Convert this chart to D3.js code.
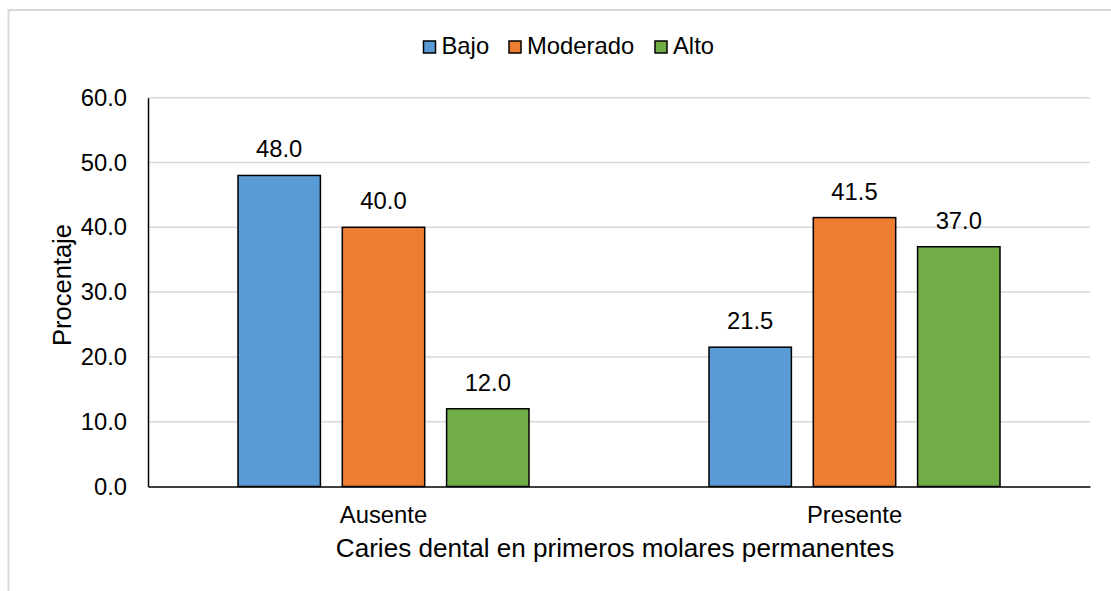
<!DOCTYPE html>
<html>
<head>
<meta charset="utf-8">
<script src="https://cdn.jsdelivr.net/npm/d3@7"></script>
<style>
  html, body { margin: 0; padding: 0; background: #fff; }
  svg { display: block; }
  text { font-family: "Liberation Sans", Arial, sans-serif; fill: #000; }
</style>
</head>
<body>
<svg id="chart" width="1111" height="591"></svg>
<script>
// Categories, series and values
const categories = ["Ausente", "Presente"];
const series = ["Bajo", "Moderado", "Alto"];
const bajo = [48.0, 21.5];
const moderado = [40.0, 41.5];
const alto = [12.0, 37.0];
const yTicks = [0, 10, 20, 30, 40, 50, 60];
const colors = ["#5B9BD5", "#ED7D31", "#70AD47"];

const seriesValues = [bajo, moderado, alto];
const data = categories.map((c, i) => ({
  category: c,
  values: series.map((s, j) => ({ key: s, value: seriesValues[j][i] }))
}));

const svg = d3.select("#chart");
const labelSize = "23.8px";

// outer chart frame
svg.append("rect")
  .attr("x", 8.5).attr("y", 10)
  .attr("width", 1130).attr("height", 600)
  .attr("fill", "none").attr("stroke", "#d9d9d9").attr("stroke-width", 2);

const plot = { left: 148, right: 1090, top: 97.7, bottom: 486.5 };

const y = d3.scaleLinear().domain([0, 60]).range([plot.bottom, plot.top]);
const x0 = d3.scaleBand().domain(categories).range([plot.left, plot.right]).padding(0);
const x1 = d3.scaleBand().domain(series)
  .range([x0.bandwidth() / 2 - 145.5, x0.bandwidth() / 2 + 145.5])
  .paddingInner(0.21).paddingOuter(0);
const color = d3.scaleOrdinal().domain(series).range(colors);

// gridlines
svg.append("g")
  .selectAll("line")
  .data(yTicks.filter(d => d > 0))
  .join("line")
  .attr("x1", plot.left).attr("x2", plot.right)
  .attr("y1", d => y(d)).attr("y2", d => y(d))
  .attr("stroke", "#d9d9d9").attr("stroke-width", 1.5);

// y axis
const yAxis = d3.axisLeft(y).tickValues(yTicks).tickFormat(d3.format(".1f")).tickSize(0).tickPadding(21);
const gy = svg.append("g").attr("transform", `translate(${plot.left},0)`).call(yAxis);
gy.select(".domain").attr("stroke", "#000").attr("stroke-width", 1.5);
gy.selectAll("text")
  .style("font-family", '"Liberation Sans", Arial, sans-serif')
  .style("font-size", labelSize).attr("fill", "#000");

// bars
const groups = svg.append("g")
  .selectAll("g")
  .data(data)
  .join("g")
  .attr("transform", d => `translate(${x0(d.category)},0)`);

groups.selectAll("rect")
  .data(d => d.values)
  .join("rect")
  .attr("x", d => x1(d.key))
  .attr("y", d => y(d.value))
  .attr("width", x1.bandwidth())
  .attr("height", d => y(0) - y(d.value))
  .attr("fill", d => color(d.key))
  .attr("stroke", "#000").attr("stroke-width", 1.5);

groups.selectAll("text.val")
  .data(d => d.values)
  .join("text")
  .attr("class", "val")
  .attr("x", d => x1(d.key) + x1.bandwidth() / 2)
  .attr("y", d => y(d.value) - 18)
  .attr("text-anchor", "middle")
  .style("font-size", labelSize)
  .text(d => d3.format(".1f")(d.value));

// x axis
const xAxis = d3.axisBottom(x0).tickSize(0).tickPadding(0);
const gx = svg.append("g").attr("transform", `translate(0,${plot.bottom})`).call(xAxis);
gx.select(".domain").attr("stroke", "#000").attr("stroke-width", 1.5);
gx.selectAll("text")
  .attr("y", 36).attr("dy", null)
  .style("font-family", '"Liberation Sans", Arial, sans-serif')
  .style("font-size", labelSize).attr("fill", "#000");

// axis titles
svg.append("text")
  .attr("x", (plot.left + plot.right) / 2 - 4)
  .attr("y", 557)
  .attr("text-anchor", "middle")
  .style("font-size", "26.1px")
  .text("Caries dental en primeros molares permanentes");

svg.append("text")
  .attr("transform", "translate(71,285) rotate(-90)")
  .attr("text-anchor", "middle")
  .style("font-size", "25.5px")
  .text("Procentaje");

// legend
const legendX = [423.5, 509, 655];
const legend = svg.append("g")
  .selectAll("g")
  .data(series)
  .join("g")
  .attr("transform", (d, i) => `translate(${legendX[i]},41)`);
legend.append("rect")
  .attr("width", 12).attr("height", 12)
  .attr("fill", d => color(d))
  .attr("stroke", "#000").attr("stroke-width", 1.5);
legend.append("text")
  .attr("x", 18).attr("y", 12.5)
  .style("font-size", labelSize)
  .text(d => d);
</script>
</body>
</html>
